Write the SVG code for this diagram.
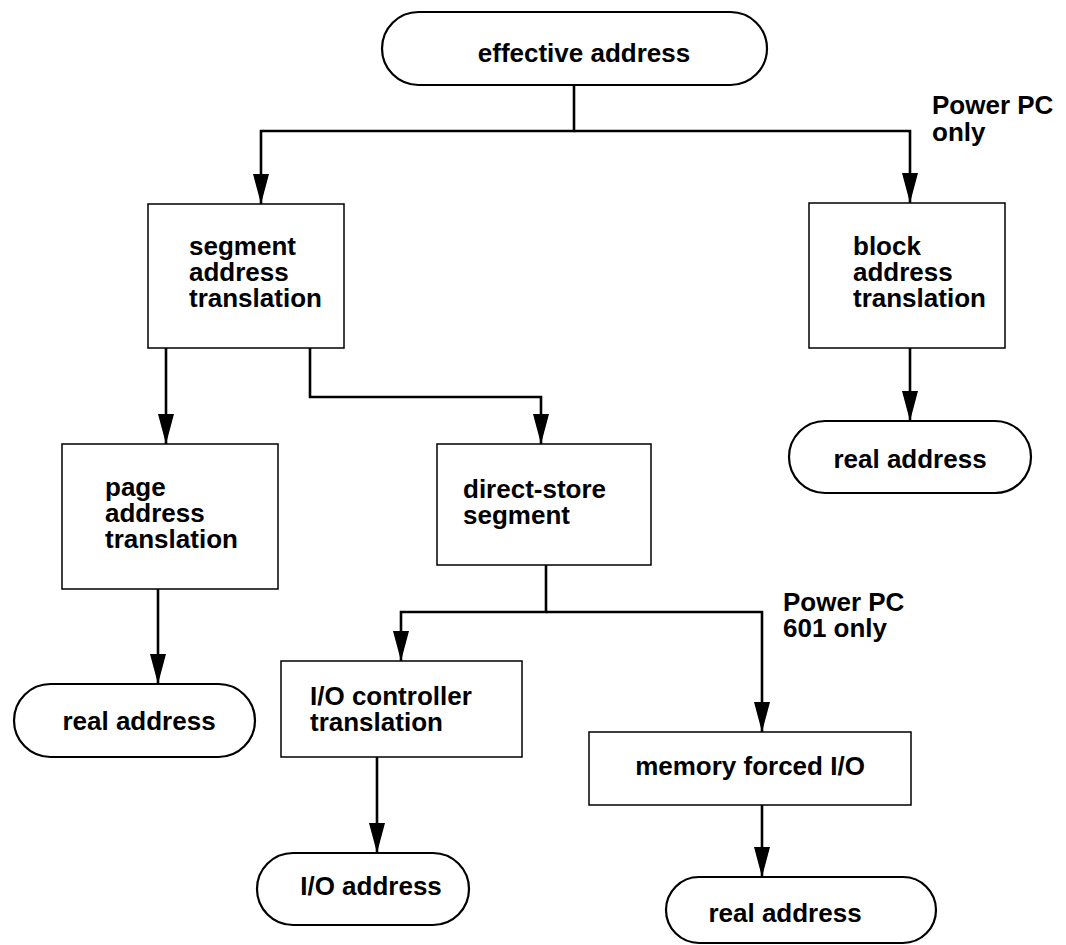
<svg xmlns="http://www.w3.org/2000/svg" width="1066" height="945" viewBox="0 0 1066 945">
  <style>
    text { font-family: "Liberation Sans", Arial, sans-serif; font-weight: bold; font-size: 26px; fill: #000; }
    .mid { text-anchor: middle; }
    .box { fill: #fff; stroke: #000; stroke-width: 1.5; }
    .pill { fill: #fff; stroke: #000; stroke-width: 2.2; }
    .wire { fill: none; stroke: #000; stroke-width: 2.6; }
  </style>
  <defs>
    <marker id="arrow" viewBox="0 0 30 16" markerWidth="30" markerHeight="16" refX="30" refY="8" orient="auto" markerUnits="userSpaceOnUse">
      <path d="M0,0 L30,8 L0,16 z" fill="#000"/>
    </marker>
  </defs>

  <!-- connectors -->
  <g id="connectors">
    <path class="wire" d="M574,85 V131 H261 V204" marker-end="url(#arrow)"/>
    <path class="wire" d="M574,131 H910 V203" marker-end="url(#arrow)"/>
    <path class="wire" d="M166,348 V444" marker-end="url(#arrow)"/>
    <path class="wire" d="M310,348 V397 H541 V444" marker-end="url(#arrow)"/>
    <path class="wire" d="M910,348 V421" marker-end="url(#arrow)"/>
    <path class="wire" d="M158,589 V684" marker-end="url(#arrow)"/>
    <path class="wire" d="M546,565 V612 H401 V661" marker-end="url(#arrow)"/>
    <path class="wire" d="M546,612 H762 V732" marker-end="url(#arrow)"/>
    <path class="wire" d="M377,757 V853" marker-end="url(#arrow)"/>
    <path class="wire" d="M762,805 V877" marker-end="url(#arrow)"/>
  </g>

  <!-- side notes -->
  <g id="note-ppc">
    <text x="932" y="114">Power PC</text>
    <text x="932" y="141">only</text>
  </g>
  <g id="note-601">
    <text x="783" y="611">Power PC</text>
    <text x="783" y="637">601 only</text>
  </g>

  <!-- nodes -->
  <g id="effective-address">
    <rect class="pill" x="382" y="12" width="385" height="73" rx="36.5"/>
    <text class="mid" x="584" y="62">effective address</text>
  </g>

  <g id="segment-translation">
    <rect class="box" x="148" y="204" width="196" height="144"/>
    <text x="189" y="255">segment</text>
    <text x="189" y="281">address</text>
    <text x="189" y="307">translation</text>
  </g>

  <g id="block-translation">
    <rect class="box" x="809" y="203" width="196" height="145"/>
    <text x="853" y="255">block</text>
    <text x="853" y="281">address</text>
    <text x="853" y="307">translation</text>
  </g>

  <g id="real-address-block">
    <rect class="pill" x="789" y="421" width="242" height="72" rx="36"/>
    <text class="mid" x="910" y="468">real address</text>
  </g>

  <g id="page-translation">
    <rect class="box" x="62" y="444" width="216" height="145"/>
    <text x="105" y="496">page</text>
    <text x="105" y="522">address</text>
    <text x="105" y="548">translation</text>
  </g>

  <g id="direct-store-segment">
    <rect class="box" x="437" y="444" width="214" height="121"/>
    <text x="463" y="498">direct-store</text>
    <text x="463" y="524">segment</text>
  </g>

  <g id="real-address-page">
    <rect class="pill" x="14" y="684" width="241" height="73" rx="36.5"/>
    <text class="mid" x="139" y="730">real address</text>
  </g>

  <g id="io-controller">
    <rect class="box" x="281" y="661" width="241" height="96"/>
    <text x="310" y="705">I/O controller</text>
    <text x="310" y="731">translation</text>
  </g>

  <g id="memory-forced-io">
    <rect class="box" x="589" y="732" width="322" height="73"/>
    <text class="mid" x="750" y="775">memory forced I/O</text>
  </g>

  <g id="io-address">
    <rect class="pill" x="257" y="853" width="212" height="72" rx="36"/>
    <text class="mid" x="371" y="895">I/O address</text>
  </g>

  <g id="real-address-memory">
    <rect class="pill" x="666" y="877" width="270" height="66" rx="33"/>
    <text class="mid" x="785" y="922">real address</text>
  </g>
</svg>
